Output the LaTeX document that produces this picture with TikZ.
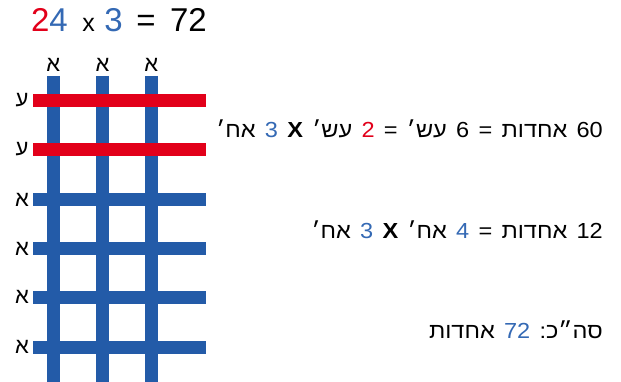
\documentclass[tikz,border=0pt]{standalone}
\usepackage{fontspec}
\setmainfont{Liberation Sans}
\newfontfamily\heb[Script=Hebrew,WordSpace=1.42,FakeStretch=1.08]{Liberation Sans}
\newfontfamily\heblbl[Script=Hebrew]{Liberation Sans}
\TeXXeTstate=1
\definecolor{barblue}{RGB}{35,91,168}
\definecolor{txtblue}{RGB}{52,105,180}
\definecolor{barred}{RGB}{226,0,26}
\tikzset{
  vbar/.style={draw=barblue, line width=13pt},
  hbar/.style={draw=barblue, line width=13pt},
  rbar/.style={draw=barred, line width=13pt},
  lbl/.style={inner sep=0pt, font=\heblbl\fontsize{22}{22}\selectfont},
  ttl/.style={inner sep=0pt, anchor=base, font=\fontsize{33}{33}\selectfont},
  rtxt/.style={inner sep=0pt, anchor=base east, font=\heb\fontsize{21.8}{24}\selectfont},
}
\begin{document}
\begin{tikzpicture}[x=1pt,y=-1pt]
\useasboundingbox (0,0) rectangle (621,382);
% title
\node[ttl] (t24) at (49.5,32) {\textcolor{barred}{2}\textcolor{txtblue}{4}};
\node[ttl, font=\fontsize{25}{25}\selectfont] (tx) at (88.5,32) {x};
\node[ttl, text=txtblue] (t3) at (113.5,32) {3};
\node[ttl] (teq) at (146,32) {=};
\node[ttl] (t72) at (188.5,32) {72};
% vertical bars
\foreach \x/\n in {53.3/v1,102.5/v2,151.3/v3}{
  \draw[vbar] (\x,76) -- (\x,382);
  \node[lbl] (t\n) at (\x,65) {א};
}
% blue horizontal bars
\foreach \y/\n in {199.5/h3,248.5/h4,297.2/h5,347.2/h6}{
  \draw[hbar] (33,\y) -- (206,\y);
  \node[lbl] (l\n) at (22,\y) {א};
}
% red horizontal bars
\foreach \y/\n in {100.5/h1,149.5/h2}{
  \draw[rbar] (33,\y) -- (206,\y);
  \node[lbl] (l\n) at (22,\y) {ע};
}
% right texts: right-to-left segments, coloured numbers between them
\node[rtxt] (line1) at (603,138)
  {\beginR אח׳\endR{} \textcolor{txtblue}{3} \beginR עש׳ \textbf{X}\endR{} \textcolor{barred}{2} \beginR 60 אחדות = 6 עש׳ =\endR};
\node[rtxt] (line2) at (603,239)
  {\beginR אח׳\endR{} \textcolor{txtblue}{3} \beginR אח׳ \textbf{X}\endR{} \textcolor{txtblue}{4} \beginR 12 אחדות =\endR};
\node[rtxt] (line3) at (603,338)
  {\beginR אחדות\endR{} \textcolor{txtblue}{72} \beginR סה״כ:\endR};
\end{tikzpicture}
\end{document}
